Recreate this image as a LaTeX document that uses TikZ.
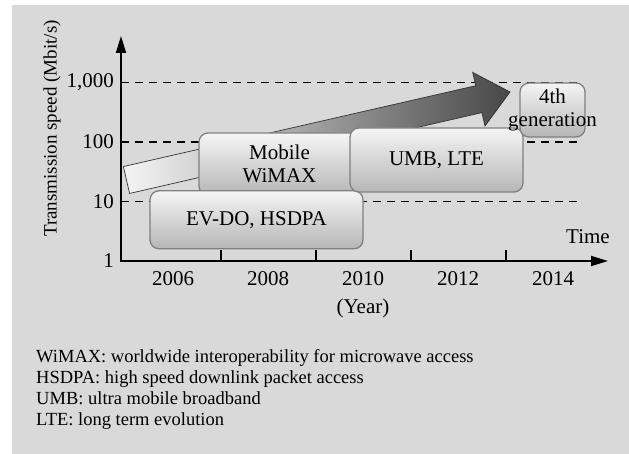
\documentclass[tikz,border=0pt]{standalone}
\usepackage{fontspec}
\setmainfont{Liberation Serif}
\usepackage{tikz}
\definecolor{panelgray}{RGB}{217, 217, 217}
\definecolor{framegray}{RGB}{128, 128, 128}
\definecolor{shadegray}{RGB}{182, 182, 182}
\usetikzlibrary{shapes, arrows.meta, positioning, calc}
\newcommand{\chartfont}{\fontsize{21}{23}\selectfont}
\newcommand{\sidefont}{\fontsize{19}{21}\selectfont}
\newcommand{\notefont}{\fontsize{18.5}{21}\selectfont}

\begin{document}
\begin{tikzpicture}[
    x=1pt, y=1pt,
    gen/.style={rectangle, draw=framegray, line width=1.3pt, rounded corners=9pt, top color=white!96!black, bottom color=shadegray, align=center, inner sep=0pt, font=\chartfont},
    axis/.style={line width=1.8pt, {Triangle[length=17pt, width=10pt]}-{Triangle[length=17pt, width=10pt]}},
    guide/.style={line width=1.2pt, dash pattern=on 8pt off 6pt},
    tick/.style={line width=1.1pt},
    val/.style={anchor=east, inner sep=0pt, font=\chartfont},
    yr/.style={inner sep=0pt, font=\chartfont},
    note/.style={anchor=base west, inner sep=0pt, font=\notefont}
]
    \useasboundingbox (0, 0) rectangle (629, 454);
    \fill[panelgray] (12, 0) rectangle (629, 449);

    % decade guides
    \draw[guide] (121, 252.5) -- (577, 252.5);
    \draw[guide] (121, 312) -- (577, 312);
    \draw[guide] (121, 371.5) -- (577, 371.5);

    % speed trend arrow
    \begin{scope}[shift={(126.5, 274)}, rotate=12.92]
        \shade[draw=black!80, line width=0.7pt, left color=black!4, right color=black!72]
            (0, -13.8) -- (361.5, -13.8) -- (361.5, -27.5) -- (393.5, 0)
            -- (361.5, 27.5) -- (361.5, 13.8) -- (0, 13.8) -- cycle;
    \end{scope}

    % generations
    \node[gen, minimum width=161pt, minimum height=62pt] (wimax) at (279.5, 290) {Mobile\\WiMAX};
    \node[gen, minimum width=213pt, minimum height=58pt] (evdo) at (256.5, 234.2) {EV-DO, HSDPA};
    \node[gen, minimum width=173pt, minimum height=64pt] (umb) at (436.5, 294) {UMB, LTE};
    \node[gen, minimum width=65pt, minimum height=54pt] (fourth) at (552.5, 344) {};
    \node[font=\chartfont, align=center, inner sep=0pt] (fourthtxt) at (fourth.center) {4th\\generation};

    % axes
    \coordinate (origin) at (121, 193);
    \coordinate (ytip) at (121, 418);
    \coordinate (xtip) at (608, 193);
    \draw[axis] (ytip) -- (origin) -- (xtip);
    \draw[tick] (221, 193) -- ++(0, 11);
    \draw[tick] (316, 193) -- ++(0, 11);
    \draw[tick] (411, 193) -- ++(0, 11);
    \draw[tick] (506, 193) -- ++(0, 11);

    \node[val] (v1) at (114, 193) {1};
    \node[val] (v10) at (114, 252.5) {10};
    \node[val] (v100) at (114, 312) {100};
    \node[val] (v1000) at (114, 371.5) {1,000};
    \node[rotate=90, font=\sidefont] (ylab) at (52, 325.5) {Transmission speed (Mbit/s)};

    \node[yr] (y2006) at (173, 175.5) {2006};
    \node[yr] (y2008) at (268, 175.5) {2008};
    \node[yr] (y2010) at (363, 175.5) {2010};
    \node[yr] (y2012) at (458, 175.5) {2012};
    \node[yr] (y2014) at (553, 175.5) {2014};
    \node[yr] (year) at (363, 146) {(Year)};
    \node[yr] (time) at (588, 217) {Time};

    % abbreviations
    \node[note] (n1) at (36, 91) {WiMAX: worldwide interoperability for microwave access};
    \node[note] (n2) at (36, 70) {HSDPA: high speed downlink packet access};
    \node[note] (n3) at (36, 49) {UMB: ultra mobile broadband};
    \node[note] (n4) at (36, 28) {LTE: long term evolution};
\end{tikzpicture}
\end{document}
